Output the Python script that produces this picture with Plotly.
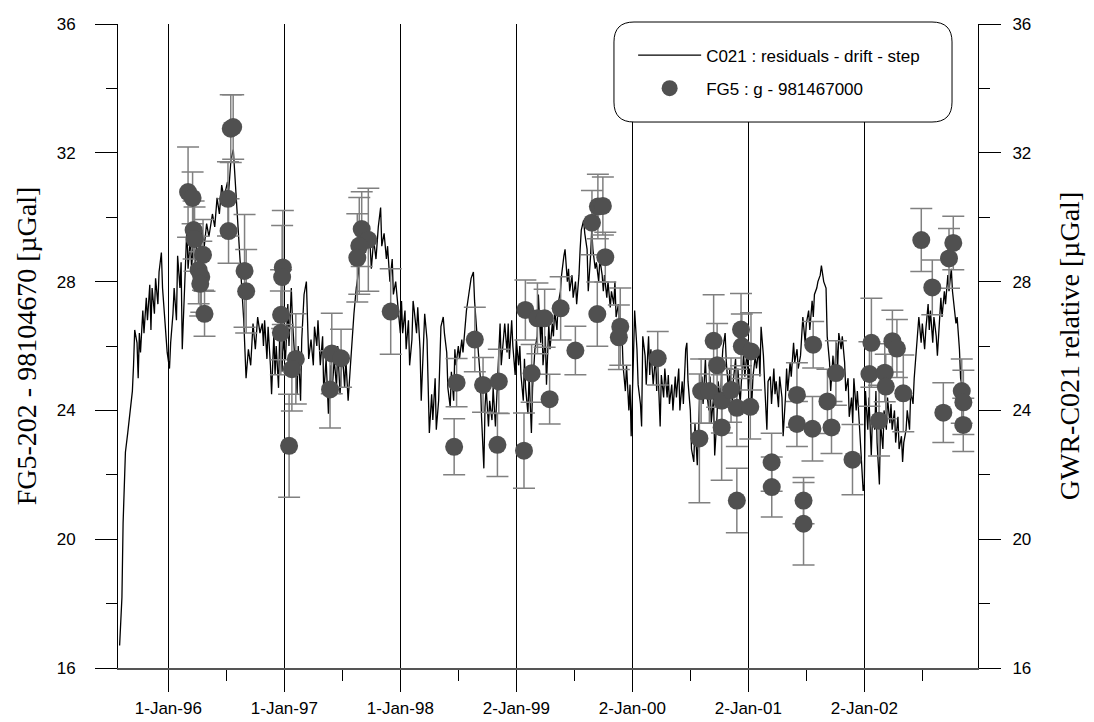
import plotly.graph_objects as go

# ---- GWR C021 residual series (decimal year, µGal) ----
gwr_year = [
 1995.58,1995.60,1995.61,1995.62,1995.63,1995.65,1995.67,1995.69,1995.70,1995.71,1995.73,1995.74,1995.75,1995.76,1995.78,1995.79,
 1995.81,1995.82,1995.84,1995.85,1995.86,1995.88,1995.89,1995.91,1995.92,1995.94,1995.95,1995.97,1995.98,1995.99,1996.01,1996.02,
 1996.04,1996.05,1996.07,1996.08,1996.10,1996.11,1996.12,1996.14,1996.15,1996.16,1996.17,1996.19,1996.20,1996.22,1996.23,1996.25,
 1996.27,1996.29,1996.31,1996.33,1996.35,1996.38,1996.40,1996.42,1996.44,1996.46,1996.48,1996.51,1996.52,1996.54,1996.56,1996.57,
 1996.59,1996.62,1996.65,1996.67,1996.69,1996.71,1996.73,1996.75,1996.77,1996.79,
 1996.81,1996.82,1996.83,1996.85,1996.86,1996.88,1996.89,1996.91,1996.92,1996.93,1996.95,1996.96,1996.98,1996.99,1997.01,1997.03,
 1997.04,1997.06,1997.07,1997.09,1997.11,1997.12,1997.14,1997.15,1997.17,1997.19,1997.20,1997.21,1997.23,1997.25,1997.26,1997.28,
 1997.29,1997.31,1997.33,1997.34,1997.36,1997.38,1997.40,1997.41,1997.43,1997.45,1997.46,1997.48,1997.50,1997.52,1997.53,1997.55,
 1997.57,1997.58,1997.60,1997.62,1997.64,1997.65,1997.67,1997.69,1997.70,1997.72,1997.74,1997.75,1997.77,1997.79,1997.81,1997.83,
 1997.84,1997.86,1997.88,1997.89,1997.91,1997.93,1997.94,1997.96,1997.98,1998.00,
 1998.01,1998.02,1998.04,1998.05,1998.07,1998.08,1998.10,1998.11,1998.12,1998.14,1998.15,1998.17,1998.18,1998.20,1998.21,1998.23,
 1998.24,1998.25,1998.27,1998.28,1998.30,1998.31,1998.33,1998.34,1998.35,1998.37,1998.38,1998.40,1998.41,1998.43,1998.44,1998.46,
 1998.47,1998.48,1998.50,1998.51,1998.53,1998.54,1998.56,1998.57,1998.59,1998.60,1998.61,1998.63,1998.64,1998.66,1998.67,1998.69,
 1998.70,1998.72,1998.73,1998.74,1998.76,1998.77,1998.79,1998.80,1998.82,1998.83,1998.84,1998.86,1998.87,1998.89,1998.90,1998.92,
 1998.93,1998.94,1998.96,1998.97,1998.99,1999.00,1999.02,1999.03,1999.04,1999.06,1999.07,1999.08,1999.10,1999.11,1999.13,1999.14,
 1999.16,
 1999.18,1999.19,1999.21,1999.22,1999.23,1999.25,1999.26,1999.28,1999.29,1999.31,1999.32,1999.33,1999.35,1999.36,1999.38,1999.39,
 1999.41,1999.42,1999.44,1999.45,1999.46,1999.48,1999.49,1999.51,1999.52,1999.54,1999.55,1999.56,1999.58,1999.59,1999.61,1999.62,
 1999.64,1999.65,1999.66,1999.68,1999.69,1999.71,1999.72,1999.74,1999.75,1999.76,1999.78,1999.79,1999.81,1999.82,1999.84,1999.85,
 1999.86,1999.88,1999.89,1999.91,1999.92,1999.94,1999.95,1999.97,1999.98,1999.99,2000.01,2000.02,2000.04,2000.05,2000.07,2000.08,
 2000.09,2000.11,2000.12,2000.14,2000.15,2000.16,2000.18,2000.20,2000.21,2000.22,2000.24,2000.25,2000.27,2000.28,2000.30,2000.31,
 2000.32,2000.34,2000.35,
 2000.37,2000.38,2000.40,2000.41,2000.43,2000.44,2000.46,2000.47,2000.48,2000.50,2000.51,2000.53,2000.54,2000.56,2000.57,2000.58,
 2000.60,2000.61,2000.63,2000.64,2000.66,2000.67,2000.68,2000.70,2000.71,2000.73,2000.74,2000.76,2000.77,2000.78,2000.80,2000.81,
 2000.83,2000.84,2000.86,2000.87,2000.89,2000.90,2000.91,2000.93,2000.94,2000.96,2000.97,2000.99,2001.00,2001.01,2001.03,2001.04,
 2001.06,2001.07,2001.09,2001.10,2001.11,2001.13,2001.14,2001.16,2001.17,2001.19,2001.20,2001.22,2001.23,2001.24,2001.26,2001.27,
 2001.29,2001.30,2001.32,2001.33,2001.34,2001.36,2001.37,2001.39,2001.40,2001.42,2001.43,2001.45,2001.46,2001.47,2001.49,2001.50,
 2001.52,2001.53,2001.55,2001.56,2001.57,2001.59,2001.60,2001.62,2001.63,2001.65,
 2001.67,2001.68,2001.70,2001.71,2001.73,2001.74,2001.76,2001.77,2001.78,2001.80,2001.81,2001.83,2001.84,2001.86,2001.87,2001.89,
 2001.90,2001.91,2001.93,2001.94,2001.96,2001.97,2001.99,2002.00,2002.01,2002.03,2002.04,2002.06,2002.07,2002.09,2002.10,2002.11,
 2002.13,2002.14,2002.16,2002.17,2002.19,2002.20,2002.22,2002.23,2002.24,2002.26,2002.27,2002.29,2002.30,2002.32,2002.33,2002.34,
 2002.36,2002.37,2002.39,2002.40,2002.42,2002.43,2002.45,2002.46,2002.47,2002.49,2002.50,2002.52,2002.53,2002.55,2002.56,2002.57,
 2002.59,2002.60,2002.62,2002.63,2002.65,2002.66,2002.67,2002.69,2002.70,2002.72,2002.73,2002.75,2002.76,2002.78,2002.79,2002.80,
 2002.82,2002.83,2002.85,
]
gwr_value = [
 16.7,18.2,20.5,21.9,22.7,23.3,23.9,24.6,25.4,26.5,26.1,25.0,26.4,25.8,27.1,26.4,
 27.5,26.8,27.9,26.5,27.8,27.0,28.1,27.3,28.3,28.9,27.8,26.8,26.1,25.8,25.3,26.1,
 27.0,27.8,26.8,28.8,27.8,28.6,25.9,27.7,28.8,29.7,28.4,29.4,28.4,29.4,28.6,29.4,
 28.9,29.6,29.1,29.8,29.4,30.1,29.7,30.6,30.1,31.0,30.6,31.1,30.8,31.8,32.1,31.5,
 30.1,28.4,26.8,25.0,25.9,25.4,26.7,25.9,26.9,26.4,
 26.7,26.0,26.8,25.6,26.6,25.4,24.5,26.4,25.1,26.0,24.7,26.4,25.2,26.2,25.6,27.3,
 26.0,27.8,26.8,25.6,24.5,26.0,24.3,26.2,27.6,28.0,26.4,25.6,26.2,25.4,26.6,26.0,
 26.8,25.4,26.3,24.5,25.6,23.9,25.4,24.5,25.6,24.7,26.0,24.5,25.8,24.7,25.6,24.3,
 25.4,26.0,27.0,27.8,28.3,29.1,28.7,29.3,28.9,29.5,29.1,28.4,29.3,28.7,29.7,30.3,
 29.1,29.5,28.7,29.1,28.0,28.7,27.6,28.0,27.2,26.4,
 27.4,26.4,27.1,25.9,26.8,25.4,26.2,27.4,27.1,26.4,27.2,25.9,24.3,25.8,27.0,26.2,
 24.7,23.3,24.5,23.7,25.0,23.4,24.3,25.7,26.6,26.9,26.4,25.8,24.7,24.1,25.2,24.3,
 25.9,25.4,26.0,25.6,26.2,25.8,26.6,27.1,27.6,27.8,28.1,28.3,27.4,26.4,25.9,25.0,
 23.8,22.2,24.1,24.7,23.5,24.3,23.7,24.7,23.5,24.3,25.6,26.7,25.4,26.4,26.7,25.8,
 26.7,25.6,26.8,26.0,25.1,26.2,25.4,26.0,25.1,24.3,25.6,24.7,23.9,25.1,23.3,24.7,
 25.9,
 26.3,27.6,26.1,27.1,25.4,26.3,24.8,26.7,25.9,26.7,26.3,27.1,26.5,27.3,27.7,28.2,
 28.8,29.0,28.0,28.4,27.7,28.2,27.5,28.0,27.3,28.2,29.0,29.6,29.9,29.5,29.0,27.7,
 28.8,29.6,29.0,28.4,28.6,28.0,28.7,28.2,27.7,28.2,27.5,28.0,27.2,27.7,27.3,28.0,
 26.9,27.3,26.3,26.5,25.4,24.6,25.4,24.0,24.8,23.2,25.7,27.1,25.9,24.8,24.2,23.5,
 26.3,25.7,24.8,26.3,25.1,25.9,24.8,25.7,24.6,25.4,23.5,25.1,24.4,25.3,24.4,25.1,
 24.2,24.8,24.0,
 25.05,24.4,25.3,24.0,24.9,24.2,25.9,26.1,24.9,24.0,22.8,22.4,23.6,22.3,23.2,24.4,
 25.05,24.2,25.6,24.6,24.0,25.05,23.6,24.4,22.6,23.8,24.9,24.2,25.3,25.9,26.4,25.5,
 24.6,25.3,24.2,24.9,25.6,24.6,25.3,24.2,24.9,25.7,25.05,25.9,24.6,25.3,24.2,25.05,
 25.7,25.3,25.9,25.05,26.6,25.7,24.9,23.4,24.9,25.05,24.2,25.3,24.5,24.9,24.1,25.05,
 24.4,23.2,24.4,25.3,24.6,25.5,25.05,26.1,25.5,25.9,25.3,25.7,26.3,26.9,26.1,26.7,
 27.1,26.5,27.4,26.9,27.6,27.8,28.0,28.2,28.5,28.0,
 27.8,26.3,25.5,24.6,25.7,25.0,26.1,25.3,26.4,25.9,26.3,25.5,24.6,25.0,23.8,24.4,
 23.6,25.0,24.0,24.6,23.4,22.6,21.5,21.7,24.6,23.4,24.4,22.6,23.8,23.4,24.6,23.0,
 21.7,23.6,22.8,24.0,23.4,24.4,23.6,24.2,23.4,24.0,23.0,23.8,22.8,23.2,22.4,23.0,
 23.4,24.0,23.4,24.6,24.2,25.0,25.9,26.3,26.9,26.1,26.7,25.9,26.5,27.3,26.5,27.1,
 26.1,26.9,26.3,25.7,26.9,27.5,26.9,27.7,27.3,28.2,27.7,28.4,27.7,27.1,26.7,26.9,
 25.9,25.0,24.6,
]

# ---- FG5 absolute gravity measurements (decimal year, µGal, 1-sigma) ----
fg5_year = [
 1996.170,1996.209,1996.218,1996.226,1996.299,1996.261,1996.284,1996.275,1996.312,
 1996.514,1996.538,1996.559,1996.519,1996.657,1996.671,
 1996.987,1996.981,1996.972,1996.970,1997.099,1997.065,1997.041,
 1997.409,1997.489,1997.394,1997.667,1997.724,1997.646,1997.629,1997.917,
 1998.642,1998.485,1998.464,1998.713,1998.849,1998.837,1999.066,1999.078,
 1999.182,1999.244,1999.132,1999.287,1999.382,1999.509,
 1999.652,1999.703,1999.746,1999.698,1999.767,1999.896,1999.884,2000.219,
 2000.578,2000.593,2000.664,2000.701,2000.731,2000.772,2000.770,2000.851,
 2000.901,2000.901,2000.937,2000.944,2001.023,2001.017,2001.201,2001.202,
 2001.419,2001.419,2001.476,2001.476,2001.559,2001.553,2001.682,2001.717,2001.755,
 2001.898,2002.061,2002.044,2002.127,2002.176,2002.185,2002.242,2002.281,2002.336,
 2002.491,2002.586,2002.681,2002.730,2002.767,2002.840,2002.854,2002.853,
]
fg5_value = [
 30.78,30.60,29.60,29.32,28.83,28.36,28.15,27.93,27.00,
 30.57,32.75,32.80,29.57,28.33,27.70,
 28.44,28.14,26.97,26.41,25.60,25.28,22.90,
 25.77,25.62,24.65,29.63,29.30,29.11,28.74,27.07,
 26.20,24.86,22.87,24.79,24.90,22.93,22.75,27.12,
 26.86,26.86,25.15,24.35,27.17,25.86,
 29.83,30.33,30.35,26.99,28.76,26.60,26.27,25.62,
 23.13,24.60,24.60,26.16,25.40,24.30,23.47,24.63,
 24.08,21.20,26.51,25.99,25.83,24.11,22.39,21.62,
 24.48,23.58,21.20,20.48,26.04,23.43,24.28,23.47,25.16,
 22.47,26.10,25.13,23.68,25.17,24.74,26.15,25.92,24.53,
 29.29,27.82,23.93,28.72,29.20,24.60,24.25,23.55,
]
fg5_error = [
 1.40,0.80,0.90,1.00,1.10,1.05,1.10,1.00,0.70,
 1.15,1.05,1.00,1.00,1.75,1.30,
 1.77,1.60,1.40,1.30,1.40,1.30,1.60,
 1.25,0.90,1.20,1.16,1.60,1.50,1.37,1.33,
 1.00,0.75,0.87,0.85,1.00,0.98,1.17,0.93,
 1.10,0.90,0.90,0.77,0.98,0.75,
 1.00,1.00,0.90,1.00,0.77,1.20,1.00,0.83,
 2.00,1.00,1.00,1.43,1.30,1.00,1.64,1.00,
 1.20,1.00,1.12,1.00,1.20,1.00,0.90,0.93,
 1.00,0.70,0.72,1.28,0.72,1.00,1.00,0.81,1.00,
 1.09,1.38,1.00,1.10,0.90,1.00,0.96,0.90,1.19,
 0.98,0.85,0.93,0.93,0.83,1.00,1.00,0.83,
]

# ---- axis ticks ----
x_tick_vals = [1996, 1997, 1998, 1999, 2000, 2001, 2002]
x_tick_text = ["1-Jan-96", "1-Jan-97", "1-Jan-98", "2-Jan-99", "2-Jan-00", "2-Jan-01", "2-Jan-02"]
x_minor_vals = [1996.5, 1997.5, 1998.5, 1999.5, 2000.5, 2001.5, 2002.5]
y_tick_vals = [16, 20, 24, 28, 32, 36]
y_tick_text = ["16", "20", "24", "28", "32", "36"]
y_minor_vals = [18, 22, 26, 30, 34]

X_RANGE = [1995.566, 2002.98]
Y_RANGE = [16, 36]

TICK_FONT = dict(family="Liberation Sans, Arial, sans-serif", size=17, color="black")
TITLE_FONT = dict(family="Liberation Serif, Times New Roman, serif", size=28, color="black")

def y_axis(side, standoff_lbl, title, title_standoff):
    return dict(
        range=Y_RANGE, tickmode="array", tickvals=y_tick_vals, ticktext=y_tick_text,
        ticks="outside", ticklen=22, tickwidth=1, tickcolor="black",
        showgrid=False, showline=True, linecolor="black", linewidth=1,
        zeroline=False, tickfont=TICK_FONT, ticklabelstandoff=standoff_lbl,
        automargin=False, side=side,
        minor=dict(tickmode="array", tickvals=y_minor_vals, ticks="outside",
                   ticklen=11, tickwidth=1, tickcolor="black", showgrid=False),
        title=dict(text=title, font=TITLE_FONT, standoff=title_standoff),
    )

fig = go.Figure()
# the continuous gravimeter series
fig.add_trace(go.Scatter(
    x=gwr_year, y=gwr_value, mode="lines",
    name="C021 : residuals - drift - step",
    line=dict(color="black", width=1.3),
    legendgroup="a", yaxis="y",
))
# absolute gravity points drawn on the overlaid axis (same scale) so they sit on top
fig.add_trace(go.Scatter(
    x=fg5_year, y=fg5_value, mode="markers",
    name="FG5 : g - 981467000",
    marker=dict(color="#505050", size=18, line=dict(width=0)),
    error_y=dict(type="data", array=fg5_error, visible=True,
                 color="#808080", thickness=1.5, width=11),
    legendgroup="b", yaxis="y2",
))

yax = y_axis("left", 16, "FG5-202 - 98104670 [µGal]", 11)
yax2 = y_axis("right", 8, "GWR-C021 relative [µGal]", 29)
yax2.update(overlaying="y", anchor="x")

# page body has an 8 px margin, so the figure is 8 px smaller and offsets reduced
fig.update_layout(
    width=1086, height=714,
    margin=dict(l=110, r=116, t=16, b=54),
    paper_bgcolor="white", plot_bgcolor="white",
    showlegend=True,
    legend=dict(
        x=0.599, y=0.979, xanchor="left", yanchor="top",
        bgcolor="rgba(0,0,0,0)", borderwidth=0,
        font=dict(family="Liberation Sans, Arial, sans-serif", size=17, color="black"),
        tracegroupgap=8, itemwidth=63, traceorder="grouped",
    ),
    xaxis=dict(
        range=X_RANGE, tickmode="array", tickvals=x_tick_vals, ticktext=x_tick_text,
        ticks="outside", ticklen=22, tickwidth=1, tickcolor="black",
        showgrid=True, gridcolor="black", gridwidth=1,
        showline=True, linecolor="#555555", linewidth=1.5,
        zeroline=False, tickfont=TICK_FONT, ticklabelstandoff=2, automargin=False,
        minor=dict(tickmode="array", tickvals=x_minor_vals, ticks="outside",
                   ticklen=11, tickwidth=1, tickcolor="black", showgrid=False),
    ),
    yaxis=yax,
    yaxis2=yax2,
)

# rounded legend frame (paper coordinates)
x0, x1, y0, y1 = 0.5767, 0.9698, 0.8478, 1.0031
rx, ry = 0.0233, 0.031
path = (f"M {x0+rx},{y1} L {x1-rx},{y1} Q {x1},{y1} {x1},{y1-ry} "
        f"L {x1},{y0+ry} Q {x1},{y0} {x1-rx},{y0} L {x0+rx},{y0} "
        f"Q {x0},{y0} {x0},{y0+ry} L {x0},{y1-ry} Q {x0},{y1} {x0+rx},{y1} Z")
fig.add_shape(type="path", path=path, xref="paper", yref="paper",
              line=dict(color="black", width=1), fillcolor="white", layer="above")

fig.write_html("out.html")
